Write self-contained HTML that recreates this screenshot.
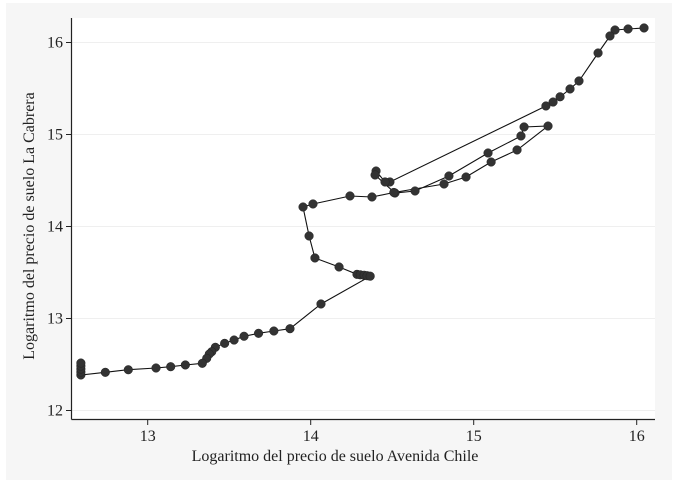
<!DOCTYPE html>
<html><head><meta charset="utf-8"><style>
html,body{margin:0;padding:0;background:#fff;}
svg{display:block;font-family:"Liberation Serif",serif;}
</style></head><body>
<svg id="chart" width="679" height="483">
<rect x="6" y="3" width="666" height="477" fill="#f6f6f6"/>
<rect x="72" y="18" width="583" height="401" fill="#ffffff"/>
<g id="grid"></g><g id="axes"></g><g id="series"></g>
<text x="335" y="461" font-size="16" text-anchor="middle" fill="#222">Logaritmo del precio de suelo Avenida Chile</text>
<text transform="translate(34,226) rotate(-90)" font-size="16" text-anchor="middle" fill="#222">Logaritmo del precio de suelo La Cabrera</text>
</svg>
<script>
const xTicks=[13,14,15,16];
const yTicks=[12,13,14,15,16];
const xVals=[16.045,15.947,15.867,15.836,15.763,15.646,15.591,15.530,15.487,15.443,14.486,14.456,14.401,14.395,14.517,14.640,14.848,15.088,15.290,15.309,15.456,15.266,15.107,14.953,14.818,14.510,14.376,14.241,14.014,13.953,13.990,14.026,14.174,14.284,14.304,14.328,14.346,14.365,14.063,13.873,13.774,13.680,13.591,13.530,13.472,13.415,13.393,13.378,13.362,13.335,13.231,13.141,13.051,12.881,12.740,12.590,12.590,12.590,12.590,12.590];
const yVals=[16.158,16.147,16.136,16.071,15.886,15.582,15.495,15.410,15.353,15.310,14.484,14.484,14.603,14.560,14.364,14.386,14.549,14.799,14.984,15.082,15.092,14.832,14.701,14.538,14.462,14.370,14.321,14.332,14.245,14.212,13.897,13.658,13.560,13.480,13.475,13.470,13.465,13.460,13.158,12.889,12.864,12.839,12.807,12.766,12.730,12.687,12.639,12.614,12.567,12.513,12.495,12.476,12.462,12.443,12.415,12.386,12.418,12.451,12.484,12.516];
const NS="http://www.w3.org/2000/svg";
function sx(v){return 147.7+(v-13)*163;}
function sy(v){return 318.5-(v-13)*92;}
function mk(tag,attrs,parent){const e=document.createElementNS(NS,tag);for(const k in attrs)e.setAttribute(k,attrs[k]);parent.appendChild(e);return e;}
const grid=document.getElementById('grid'),axes=document.getElementById('axes'),series=document.getElementById('series');
yTicks.forEach(t=>{
  const g=mk('line',{x1:72,x2:655,y1:sy(t),y2:sy(t),stroke:'#efefef','stroke-width':1},grid);
  
  
  const tk=mk('line',{x1:66,x2:72,y1:sy(t),y2:sy(t),stroke:'#222','stroke-width':1},axes);
  
  
  const lb=mk('text',{x:63,y:sy(t)+5,'font-size':16,'text-anchor':'end',fill:'#222'},axes);
  lb.textContent=t;
  
  
});
xTicks.forEach(t=>{
  const tk=mk('line',{x1:sx(t),x2:sx(t),y1:419,y2:425,stroke:'#222','stroke-width':1},axes);
  
  
  const lb=mk('text',{x:sx(t),y:441,'font-size':16,'text-anchor':'middle',fill:'#222'},axes);
  lb.textContent=t;
  
  
});
const ya=mk('line',{x1:71.5,x2:71.5,y1:18,y2:419.5,stroke:'#222','stroke-width':1.2},axes);


const xa=mk('line',{x1:71.5,x2:655,y1:419.5,y2:419.5,stroke:'#222','stroke-width':1.2},axes);


const pts=xVals.map((v,i)=>sx(v).toFixed(1)+','+sy(yVals[i]).toFixed(1)).join(' ');
const pl=mk('polyline',{points:pts,fill:'none',stroke:'#111','stroke-width':1.1},series);


xVals.forEach((v,i)=>{
  const c=mk('circle',{cx:sx(v),cy:sy(yVals[i]),r:4.3,fill:'#333',stroke:'#222','stroke-width':0.5},series);
  
  
});
</script>
</body></html>
